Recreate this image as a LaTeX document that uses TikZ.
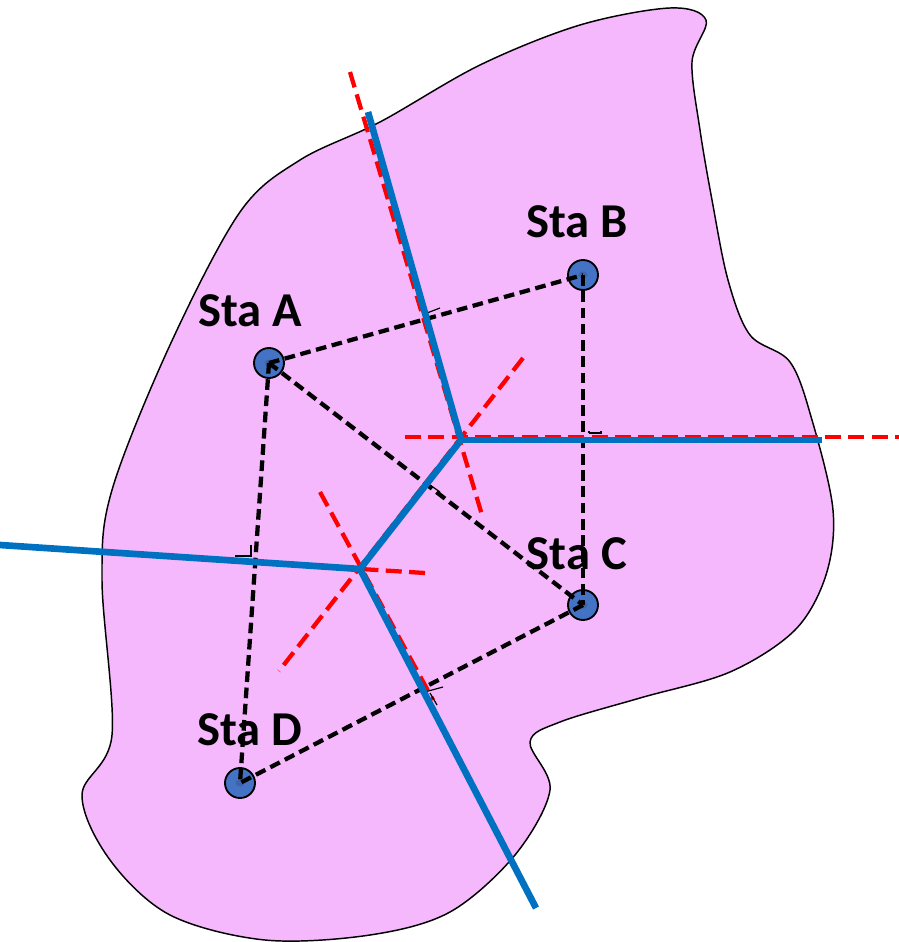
\documentclass[tikz,border=0pt]{standalone}
\usepackage{fontspec}
\setmainfont{Carlito}
\definecolor{blobfill}{HTML}{F6B8FC}
\definecolor{stafill}{HTML}{4472C4}
\definecolor{stacore}{HTML}{3F63A8}
\definecolor{bisect}{HTML}{0070C0}
\definecolor{redline}{HTML}{FF0000}
\tikzset{
  blob/.style={draw=black,line width=1.1pt,fill=blobfill},
  station/.style={circle,draw=black,line width=1.4pt,fill=stafill,minimum size=22.5pt,inner sep=0pt},
  stalabel/.style={font=\bfseries\fontsize{36.5pt}{38pt}\selectfont,text=black,inner sep=0pt},
  linkline/.style={draw=black,line width=3.2pt,dash pattern=on 8pt off 4.2pt},
  perpline/.style={draw=redline,line width=3.2pt,dash pattern=on 12pt off 5.5pt},
  cellline/.style={draw=bisect,line width=5pt},
  tick/.style={draw=black,line width=0.9pt}
}
\begin{document}
\begin{tikzpicture}[x=0.75pt,y=-0.75pt]
\useasboundingbox (0,0) rectangle (899,942);
% region
\path[blob] plot[smooth cycle,tension=0.55] coordinates {
 (706,20) (692,62) (700,130) (712,200) (728,280) (750,335) (790,362) (812,420) (833,510)
 (826,575) (795,630) (730,672) (640,698) (560,722) (530,742) (550,790) (515,855) (450,912)
 (370,935) (265,940) (170,915) (110,860) (82,795) (112,735) (102,580) (112,490) (170,345)
 (240,212) (300,160) (380,122) (480,65) (580,25) (670,8)};
% stations
\node[station] (a) at (269,363) {};
\node[station] (b) at (583,275) {};
\node[station] (c) at (583,605) {};
\node[station] (d) at (240,783) {};
\foreach \s in {a,b,c,d}{\fill[stacore] (\s.center) ellipse (4.5 and 3.5);}
% junctions and free ends
\coordinate (j1) at (461,440);
\coordinate (j2) at (360,569);
\coordinate (bn) at (368,112);
\coordinate (be) at (822,440);
\coordinate (bw) at (0,545);
\coordinate (bs) at (536,908);
\coordinate (r1a) at (350,72);
\coordinate (r1b) at (482,515);
\coordinate (r2a) at (405,437);
\coordinate (r2b) at (899,437);
\coordinate (r3a) at (523,358);
\coordinate (r3b) at (279,671);
\coordinate (r4a) at (320,492);
\coordinate (r4b) at (433,700);
\coordinate (r5a) at (425,573);
\coordinate (r5b) at (240,561.5);
% perpendicular bisectors
\draw[perpline] (r1a) -- (r1b);
\draw[perpline] (r2a) -- (r2b);
\draw[perpline] (r3a) -- (r3b);
\draw[perpline] (r4a) -- (r4b);
\draw[perpline] (r5a) -- (r5b);
% labels
\node[stalabel] (la) at (250,311) {Sta A};
\node[stalabel] (lb) at (577,222) {Sta B};
\node[stalabel] (lc) at (577,554) {Sta C};
\node[stalabel] (ld) at (250,730) {Sta D};
% links
\draw[linkline] (a.center) -- (b.center);
\draw[linkline] (b.center) -- (c.center);
\draw[linkline] (a.center) -- (c.center);
\draw[linkline] (a.center) -- (d.center);
\draw[linkline] (c.center) -- (d.center);
% right-angle marks
\draw[tick] (427,313) -- (440,308);
\draw[tick] (589,433) -- (589,431) (589,433) -- (601,433) -- (601,431);
\draw[tick] (235,556) -- (251,556) -- (251,545);
\draw[tick] (421,693) -- (443,687) (430,693) -- (437,705);
\draw[tick] (430,485) -- (440,492);
% Thiessen polygon edges
\draw[cellline] (bn) -- (j1);
\draw[cellline] (be) -- (j1);
\draw[cellline] (j1) -- (j2);
\draw[cellline] (bw) -- (j2);
\draw[cellline] (bs) -- (j2);
\end{tikzpicture}
\end{document}
